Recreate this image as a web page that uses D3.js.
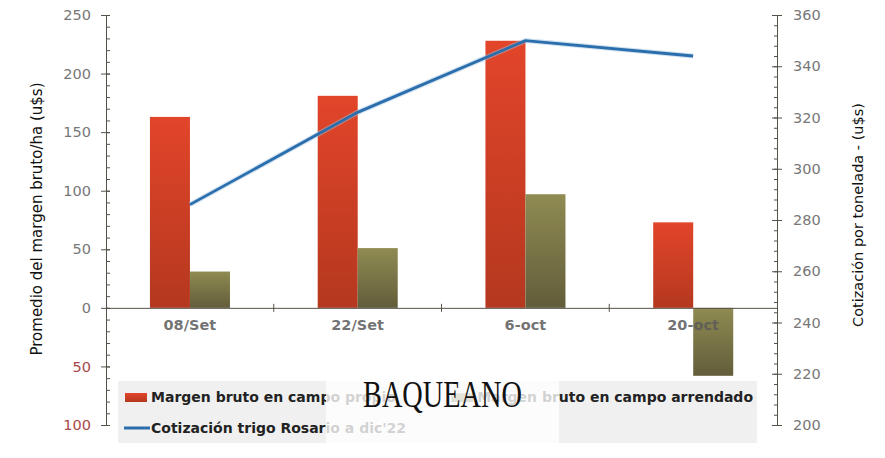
<!DOCTYPE html>
<html lang="es">
<head>
<meta charset="UTF-8">
<title>Margen bruto y cotización trigo</title>
<script src="https://cdn.jsdelivr.net/npm/d3@7/dist/d3.min.js"></script>
<style>
  body { margin: 0; background: #fff; }
  text { font-family: "DejaVu Sans", Verdana, sans-serif; }
</style>
</head>
<body>
<svg id="main" width="885" height="458"></svg>
<script>
// data
var categories = ["08/Set", "22/Set", "6-oct", "20-oct"];
var margenPropio = [163, 181, 228, 73];
var margenArrendado = [31, 51, 97, -58];
var cotizacion = [286, 322, 350, 344];
var leftTicks = [-100, -50, 0, 50, 100, 150, 200, 250];
var rightTicks = [200, 220, 240, 260, 280, 300, 320, 340, 360];
var seriesNames = ["Margen bruto en campo propio", "Margen bruto en campo arrendado", "Cotización trigo Rosario a dic'22"];

var svg = d3.select("svg#main");
var plotLeft = 106, plotRight = 777, plotTop = 15, plotBottom = 425;

var x = d3.scaleBand().domain(categories).range([plotLeft, plotRight]);
var xs = d3.scaleBand().domain(["p", "a"]).range([x.bandwidth() * 0.262, x.bandwidth() * 0.739]);
var yL = d3.scaleLinear().domain([-100, 250]).range([plotBottom, plotTop]);
var yR = d3.scaleLinear().domain([200, 360]).range([plotBottom, plotTop]);

// gradients
var defs = svg.append("defs");
function grad(id, c1, c2) {
  var g = defs.append("linearGradient").attr("id", id).attr("x1", 0).attr("y1", 0).attr("x2", 0).attr("y2", 1);
  g.append("stop").attr("offset", "0%").attr("stop-color", c1);
  g.append("stop").attr("offset", "100%").attr("stop-color", c2);
}
grad("gRed", "#e2452a", "#b4381f");
grad("gOlive", "#8f8b52", "#625d3a");

// axes
var axisColor = "#555248";
var gl = svg.append("g").attr("transform", "translate(" + plotLeft + ",0)");
gl.call(d3.axisLeft(yL).tickValues(d3.range(-100, 251, 10)).tickSize(4).tickFormat(""));
gl.selectAll(".tick line").attr("x1", 0).attr("x2", 4);
var glMaj = svg.append("g").attr("transform", "translate(" + plotLeft + ",0)")
  .call(d3.axisLeft(yL).tickValues(leftTicks).tickSize(5).tickPadding(10).tickFormat(function (d) { return Math.abs(d); }));
glMaj.selectAll(".tick line").attr("x1", -5).attr("x2", 4);
glMaj.selectAll(".tick text").attr("font-size", 14.5)
  .attr("fill", function (d) { return d < 0 ? "#a8484a" : "#777"; });

var gr = svg.append("g").attr("transform", "translate(" + plotRight + ",0)");
gr.call(d3.axisRight(yR).tickValues(d3.range(200, 361, 4)).tickSize(2).tickFormat(""));
gr.selectAll(".tick line").attr("x1", -3).attr("x2", 1);
var grMaj = svg.append("g").attr("transform", "translate(" + plotRight + ",0)")
  .call(d3.axisRight(yR).tickValues(rightTicks).tickSize(5).tickPadding(11));
grMaj.selectAll(".tick line").attr("x1", -5).attr("x2", 5);
grMaj.selectAll(".tick text").attr("font-size", 14.5).attr("fill", "#777");

svg.selectAll(".domain").attr("stroke", axisColor);
svg.selectAll(".tick line").attr("stroke", axisColor);

// bars
var groups = svg.append("g").selectAll("g").data(categories).enter().append("g")
  .attr("transform", function (d) { return "translate(" + x(d) + ",0)"; });
groups.append("rect")
  .attr("x", xs("p")).attr("width", xs.bandwidth())
  .attr("y", function (d, i) { return yL(Math.max(0, margenPropio[i])); })
  .attr("height", function (d, i) { return Math.abs(yL(margenPropio[i]) - yL(0)); })
  .attr("fill", "url(#gRed)");
groups.append("rect")
  .attr("x", xs("a")).attr("width", xs.bandwidth())
  .attr("y", function (d, i) { return yL(Math.max(0, margenArrendado[i])); })
  .attr("height", function (d, i) { return Math.abs(yL(margenArrendado[i]) - yL(0)); })
  .attr("fill", "url(#gOlive)");

// category axis at zero
var gx = svg.append("g").attr("transform", "translate(0," + yL(0) + ")")
  .call(d3.axisBottom(x).tickSize(0).tickPadding(12));
gx.select(".domain").attr("stroke", axisColor);
gx.selectAll(".tick text").attr("font-size", 14.5).attr("font-weight", "bold")
  .attr("fill", "#5a5a5a").attr("fill-opacity", 0.85);
svg.append("g").selectAll("line").data(categories.slice(1)).enter().append("line")
  .attr("x1", function (d) { return x(d); }).attr("x2", function (d) { return x(d); })
  .attr("y1", yL(0) - 4).attr("y2", yL(0) + 4).attr("stroke", axisColor);

// line
var line = d3.line()
  .x(function (d, i) { return x(categories[i]) + x.bandwidth() / 2; })
  .y(function (d) { return yR(d); });
svg.append("path").datum(cotizacion).attr("d", line)
  .attr("fill", "none").attr("stroke", "#9fc1de").attr("stroke-width", 5).attr("stroke-opacity", 0.5);
svg.append("path").datum(cotizacion).attr("d", line)
  .attr("fill", "none").attr("stroke", "#2a6ead").attr("stroke-width", 2.8);

// axis titles
svg.append("text").attr("transform", "translate(42,219) rotate(-90)")
  .attr("text-anchor", "middle").attr("font-size", 15).attr("fill", "#111")
  .text("Promedio del margen bruto/ha (u$s)");
svg.append("text").attr("transform", "translate(863,215) rotate(-90)")
  .attr("text-anchor", "middle").attr("font-size", 14.5).attr("fill", "#111")
  .text("Cotización por tonelada - (u$s)");

// legend
var lg = svg.append("g");
lg.append("rect").attr("x", 118).attr("y", 381).attr("width", 639).attr("height", 62).attr("fill", "#f0f0f0");
lg.append("rect").attr("x", 125).attr("y", 393).attr("width", 22).attr("height", 9).attr("fill", "url(#gRed)");
lg.append("text").attr("x", 151).attr("y", 402).attr("font-size", 14).attr("font-weight", "bold").attr("fill", "#222").text(seriesNames[0]);
var t2 = lg.append("text").attr("x", 753).attr("y", 402).attr("text-anchor", "end")
  .attr("font-size", 14).attr("font-weight", "bold").attr("fill", "#222").text(seriesNames[1]);
var t2w = t2.node().getComputedTextLength();
lg.append("rect").attr("x", 753 - t2w - 26).attr("y", 393).attr("width", 22).attr("height", 9).attr("fill", "url(#gOlive)");
lg.append("line").attr("x1", 124).attr("x2", 150).attr("y1", 428).attr("y2", 428).attr("stroke", "#2a6ead").attr("stroke-width", 3);
lg.append("text").attr("x", 151).attr("y", 433).attr("font-size", 14).attr("font-weight", "bold").attr("fill", "#222").text(seriesNames[2]);

// watermark
svg.append("rect").attr("x", 326).attr("y", 376).attr("width", 233).attr("height", 70).attr("fill", "#fff").attr("fill-opacity", 0.8);
svg.append("text").attr("x", 363).attr("y", 407).attr("font-size", 37)
  .attr("textLength", 159).attr("lengthAdjust", "spacingAndGlyphs")
  .style("font-family", "'Liberation Serif', serif").attr("fill", "#111").text("BAQUEANO");
</script>
</body>
</html>
